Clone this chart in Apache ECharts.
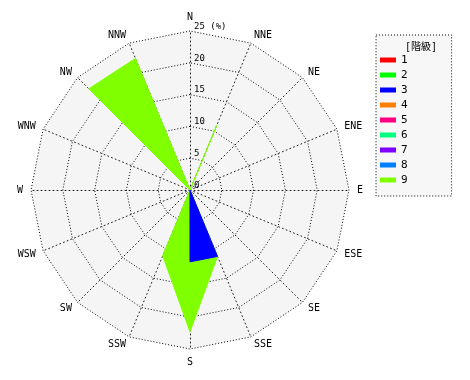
<!DOCTYPE html>
<html>
<head>
<meta charset="utf-8">
<script src="https://cdn.jsdelivr.net/npm/echarts@6/dist/echarts.min.js"></script>
<style>html,body{margin:0;padding:0;background:#fff;}#c{width:470px;height:380px;}</style>
</head>
<body>
<div id="c"></div>
<script>
// Directions in compass order (clockwise from N)
var directions = ['N','NNE','NE','ENE','E','ESE','SE','SSE','S','SSW','SW','WSW','W','WNW','NW','NNW'];
var classes = ['1','2','3','4','5','6','7','8','9'];
var classColors = ['#ff0000','#00ff00','#0000ff','#ff8000','#ff0080','#00ff80','#8000ff','#0080ff','#80ff00'];
// Values (%) per class, compass order
var class1 = [0,0,0,0,0,0,0,0,0,0,0,0,0,0,0,0];
var class2 = [0,0,0,0,0,0,0,0,0,0,0,0,0,0,0,0];
var class3 = [0,0,0,0,0,0,0,11.3,11.3,0,0,0,0,0,0,0];
var class4 = [0,0,0,0,0,0,0,0,0,0,0,0,0,0,0,0];
var class5 = [0,0,0,0,0,0,0,0,0,0,0,0,0,0,0,0];
var class6 = [0,0,0,0,0,0,0,0,0,0,0,0,0,0,0,0];
var class7 = [0,0,0,0,0,0,0,0,0,0,0,0,0,0,0,0];
var class8 = [0,0,0,0,0,0,0,0,0,0,0,0,0,0,0,0];
var class9 = [0,11,0,0,0,0,0,11.3,22.3,11.2,0,0,0,0,22.5,22.4];
var classValues = [class1,class2,class3,class4,class5,class6,class7,class8,class9];
var axisMax = 25;
var tickUnit = '(%)';

var FONT = '"DejaVu Sans Mono", "Noto Sans CJK JP", monospace';
// ECharts radar places indicators counter-clockwise; reorder so compass runs clockwise
var order = [0];
for (var k = directions.length - 1; k >= 1; k--) order.push(k);

var indicator = order.map(function (i, n) {
  var ind = { name: directions[i], min: 0, max: axisMax };
  if (n === 0) {
    ind.axisLabel = {
      show: true, margin: -4, align: 'left', verticalAlign: 'bottom',
      color: '#000', fontSize: 9, fontFamily: FONT,
      formatter: function (v) { return v === axisMax ? v + ' ' + tickUnit : String(v); }
    };
  }
  return ind;
});

// draw class 9 first so class 3 lies on top of it
var drawOrder = [8,0,1,2,3,4,5,6,7];
var series = drawOrder.map(function (c) {
  return {
    type: 'radar',
    name: classes[c],
    symbol: 'none',
    itemStyle: { color: classColors[c] },
    lineStyle: { color: classColors[c], width: 1 },
    areaStyle: { color: classColors[c], opacity: 1 },
    data: [{ name: classes[c], value: order.map(function (i) { return classValues[c][i]; }) }]
  };
});

var chart = echarts.init(document.getElementById('c'), null, { renderer: 'canvas' });
chart.setOption({
  animation: false,
  backgroundColor: '#fff',
  title: {
    text: '[階級]', left: 416, top: 37, textAlign: 'center',
    textStyle: { fontSize: 10, fontWeight: 'normal', color: '#000', fontFamily: FONT }
  },
  legend: {
    orient: 'vertical', left: 376, top: 35,
    data: classes,
    icon: 'rect', itemWidth: 16, itemHeight: 5, itemGap: 3, itemTextGap: 5,
    padding: [19, 44, 10, 4],
    borderColor: '#000', borderWidth: 1, borderType: [1, 2],
    backgroundColor: '#f7f7f7',
    textStyle: { fontSize: 11, color: '#000', fontFamily: FONT, lineHeight: 12 }
  },
  radar: {
    center: [190, 190], radius: 159, startAngle: 90, splitNumber: 5, shape: 'polygon',
    indicator: indicator,
    nameGap: 8,
    axisName: { color: '#000', fontSize: 10, fontFamily: FONT },
    splitLine: { lineStyle: { color: '#000', type: [1, 2], width: 1 } },
    splitArea: { show: true, areaStyle: { color: ['#f5f5f5'] } },
    axisLine: { lineStyle: { color: '#222', type: [1, 3], width: 1 } },
    axisTick: { show: false },
    axisLabel: { show: false }
  },
  series: series
});
</script>
</body>
</html>
